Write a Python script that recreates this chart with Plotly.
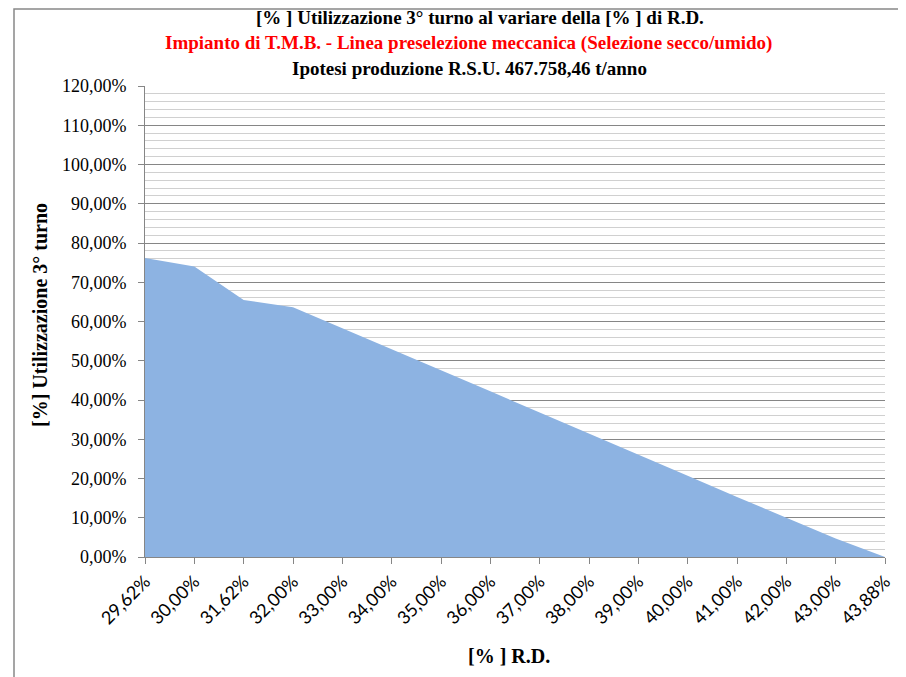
import plotly.graph_objects as go

categories = ["29,62%", "30,00%", "31,62%", "32,00%", "33,00%", "34,00%", "35,00%",
              "36,00%", "37,00%", "38,00%", "39,00%", "40,00%", "41,00%", "42,00%",
              "43,00%", "43,88%"]
utilizzazione = [0.762, 0.740, 0.655, 0.636, 0.583, 0.530, 0.476, 0.422,
                 0.368, 0.315, 0.261, 0.207, 0.153, 0.100, 0.047, 0.0]

# window geometry (page body has an 8px margin)
OX, OY = 8, 8
Wf, Hf = 898, 669
L, R, T, B = 145, 885, 86, 557

fig = go.Figure()
fig.add_trace(go.Scatter(
    x=categories, y=utilizzazione, mode="lines",
    line=dict(width=0, color="rgb(141,179,226)"),
    fill="tozeroy", fillcolor="rgb(141,179,226)",
    hoverinfo="x+y", showlegend=False,
))

pw, ph = R - L, B - T
def px(x): return (x - L) / pw
def py(y): return (B - y) / ph

fig.update_layout(
    width=Wf, height=Hf,
    margin=dict(l=L - OX, r=OX + Wf - R, t=T - OY, b=OY + Hf - B, pad=0),
    paper_bgcolor="white", plot_bgcolor="white",
    separators=",.",
    showlegend=False,
    font=dict(family="Liberation Serif", color="black"),
    xaxis=dict(
        type="category", range=[0, len(categories) - 1],
        showgrid=False, zeroline=False,
        showline=True, linecolor="#868686", linewidth=1,
        ticks="outside", ticklen=6, tickcolor="#868686",
        tickangle=-45,
        tickfont=dict(family="Lato", size=18, color="black"),
    ),
    yaxis=dict(
        range=[0, 1.2], dtick=0.1, tick0=0, tickformat=".2%",
        showgrid=True, gridcolor="#868686", gridwidth=1,
        zeroline=False,
        showline=True, linecolor="#868686", linewidth=1,
        ticks="outside", ticklen=6, tickcolor="#868686",
        ticklabelstandoff=8,
        tickfont=dict(family="Liberation Serif", size=18, color="black"),
        minor=dict(dtick=0.02, showgrid=True, gridcolor="#d0d0d0", gridwidth=1, ticks=""),
        layer="below traces",
    ),
    shapes=[
        dict(type="rect", xref="paper", yref="paper",
             x0=px(14), x1=px(OX + Wf + 20), y0=py(OY + Hf + 20), y1=py(9),
             line=dict(color="#888888", width=1.5), fillcolor="rgba(0,0,0,0)", layer="below"),
    ],
    annotations=[
        dict(text="<b>[% ] Utilizzazione 3° turno al variare della [% ] di R.D.</b>",
             xref="paper", yref="paper", x=px(480), y=py(17), showarrow=False,
             font=dict(family="Liberation Serif", size=19, color="black"), xanchor="center", yanchor="middle"),
        dict(text="<b>Impianto di T.M.B. - Linea preselezione meccanica (Selezione secco/umido)</b>",
             xref="paper", yref="paper", x=px(468), y=py(43), showarrow=False,
             font=dict(family="Liberation Serif", size=19, color="#ff0000"), xanchor="center", yanchor="middle"),
        dict(text="<b>Ipotesi produzione R.S.U. 467.758,46 t/anno</b>",
             xref="paper", yref="paper", x=px(469), y=py(68), showarrow=False,
             font=dict(family="Liberation Serif", size=19, color="black"), xanchor="center", yanchor="middle"),
        dict(text="<b>[%] Utilizzazione 3° turno</b>",
             xref="paper", yref="paper", x=px(40), y=py(315), showarrow=False, textangle=-90,
             font=dict(family="Liberation Serif", size=20, color="black"), xanchor="center", yanchor="middle"),
        dict(text="<b>[% ] R.D.</b>",
             xref="paper", yref="paper", x=px(509), y=py(656), showarrow=False,
             font=dict(family="Liberation Serif", size=20, color="black"), xanchor="center", yanchor="middle"),
    ],
)

fig.write_html("out.html")
